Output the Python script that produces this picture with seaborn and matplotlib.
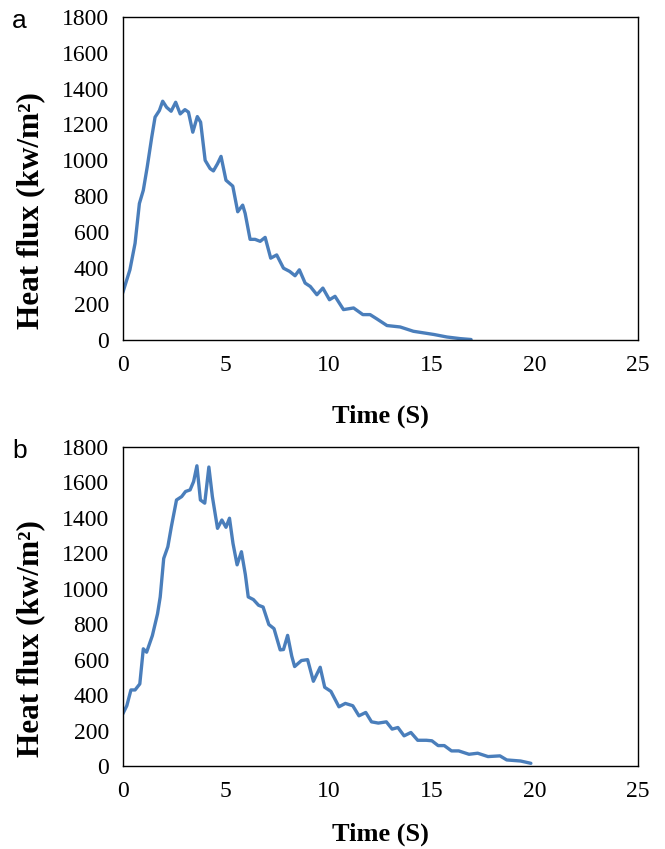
import pandas as pd
import seaborn as sns
import matplotlib.pyplot as plt

# heat flux traces
time_a = [0.0, 0.35, 0.6, 0.81, 1.0, 1.19, 1.41, 1.57, 1.78, 1.94, 2.13, 2.35, 2.57, 2.79,
          3.02, 3.19, 3.40, 3.62, 3.78, 4.0, 4.24, 4.40, 4.60, 4.77, 5.01, 5.34, 5.58, 5.82,
          5.94, 6.18, 6.42, 6.67, 6.91, 7.18, 7.47, 7.80, 8.10, 8.36, 8.57, 8.85, 9.10, 9.42,
          9.71, 10.03, 10.3, 10.71, 11.2, 11.65, 12.0, 12.33, 12.82, 13.46, 14.1, 14.6, 15.1,
          15.73, 16.37, 16.9]
flux_a = [260, 389, 537, 759, 833, 963, 1130, 1241, 1278, 1330, 1296, 1274, 1324, 1259,
          1283, 1269, 1157, 1244, 1213, 1000, 954, 941, 981, 1022, 889, 856, 713, 750,
          704, 559, 559, 548, 570, 454, 472, 398, 380, 356, 389, 315, 296, 250,
          287, 222, 241, 167, 176, 139, 139, 115, 78, 70, 46, 37, 28,
          14, 5, 0]

time_b = [0.0, 0.2, 0.4, 0.6, 0.83, 1.0, 1.16, 1.44, 1.69, 1.82, 1.99, 2.19, 2.36, 2.61,
          2.86, 3.05, 3.27, 3.44, 3.6, 3.77, 3.98, 4.18, 4.35, 4.6, 4.81, 5.01, 5.18, 5.35,
          5.55, 5.76, 5.95, 6.09, 6.34, 6.59, 6.81, 7.09, 7.34, 7.64, 7.8, 8.0, 8.2, 8.34,
          8.67, 8.97, 9.25, 9.58, 9.8, 10.1, 10.49, 10.8, 11.16, 11.46, 11.79, 12.07, 12.4,
          12.79, 13.07, 13.35, 13.65, 13.98, 14.31, 14.73, 15.0, 15.3, 15.6, 15.95, 16.3,
          16.8, 17.22, 17.72, 18.3, 18.63, 19.3, 19.8]
flux_b = [293, 340, 429, 429, 463, 661, 642, 736, 859, 954, 1171, 1237, 1350, 1501,
          1520, 1549, 1558, 1605, 1694, 1501, 1483, 1687, 1520, 1341, 1388, 1347, 1398, 1256,
          1135, 1209, 1080, 954, 939, 907, 897, 798, 775, 655, 657, 737, 620, 561,
          595, 600, 478, 557, 444, 421, 334, 353, 340, 283, 302, 249, 242,
          249, 208, 217, 170, 189, 145, 145, 142, 115, 115, 85, 85,
          66, 72, 53, 57, 34, 28, 15]

x_ticks = [0, 5, 10, 15, 20, 25]
y_ticks = [0, 200, 400, 600, 800, 1000, 1200, 1400, 1600, 1800]

sns.set_style("white")
plt.rcParams["font.family"] = ["Liberation Serif", "DejaVu Serif"]
plt.rcParams["text.color"] = "black"
plt.rcParams["axes.labelcolor"] = "black"
plt.rcParams["xtick.color"] = "black"
plt.rcParams["ytick.color"] = "black"

fig = plt.figure(figsize=(6.65, 8.49), dpi=100)
ax_a = fig.add_axes([0.1845, 0.6001, 0.775, 0.3799])
ax_b = fig.add_axes([0.1845, 0.0978, 0.775, 0.3757])

panels = [(ax_a, time_a, flux_a, "a", 1 - 28 / 849, -0.203),
          (ax_b, time_b, flux_b, "b", 1 - 458 / 849, -0.178)]

for ax, t, q, letter, ly, xl in panels:
    df = pd.DataFrame({"time": t, "flux": q})
    sns.lineplot(data=df, x="time", y="flux", ax=ax, color="#4A7EBB", linewidth=2.4)
    ax.set_xlim(0, 25)
    ax.set_ylim(0, 1800)
    ax.set_xticks(x_ticks)
    ax.set_yticks(y_ticks)
    ax.tick_params(axis="x", pad=11)
    ax.tick_params(direction="in", length=5, width=1, labelsize=17, colors="black")
    ax.tick_params(axis="y", pad=10)
    for s in ax.spines.values():
        s.set_visible(True)
        s.set_color("black")
        s.set_linewidth(1)
    ax.set_xlabel("Time (S)", fontsize=19, fontweight="bold")
    ax.set_ylabel("Heat flux (kw/m²)", fontsize=22.5, fontweight="bold")
    ax.xaxis.set_label_coords(0.5, xl)
    ax.yaxis.set_label_coords(-0.15, 0.40)
    fig.text(12 / 665, ly, letter, family=["Liberation Sans", "DejaVu Sans"], fontsize=19,
             va="baseline", color="black")

plt.savefig("out.png", dpi=100)
